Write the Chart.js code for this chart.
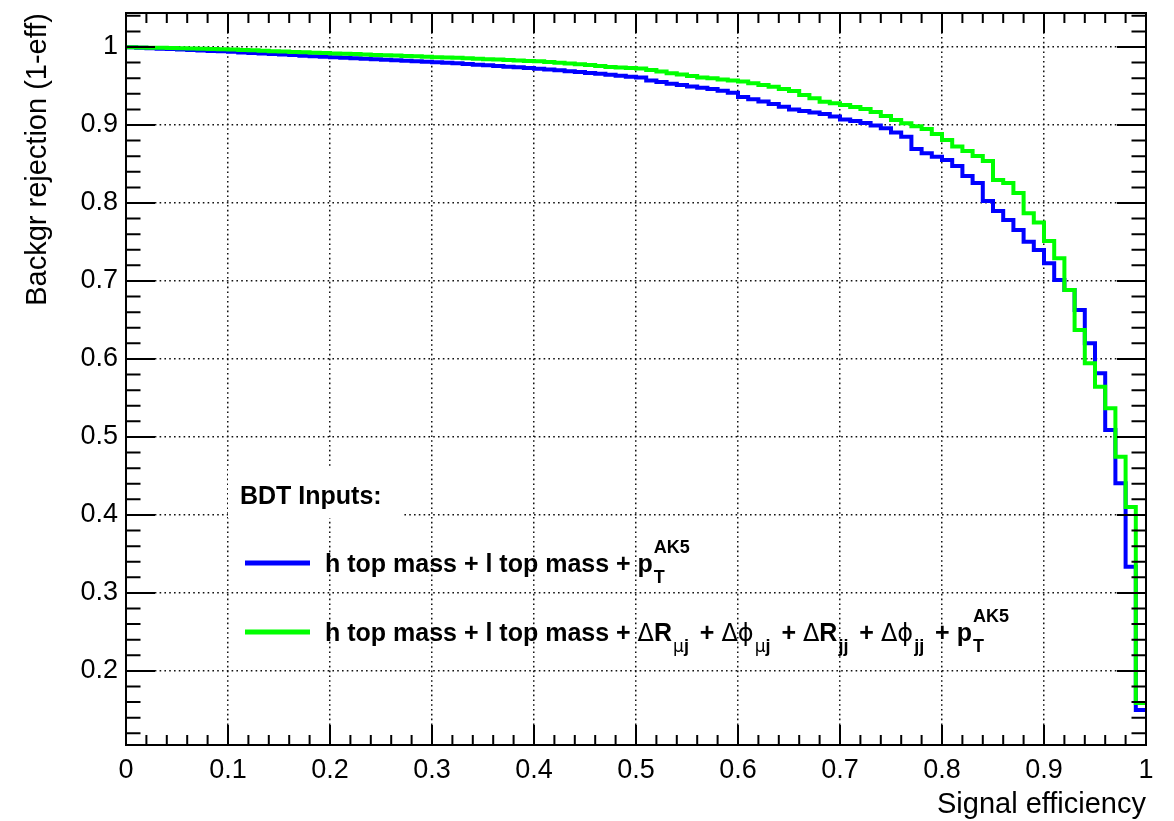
<!DOCTYPE html>
<html>
<head>
<meta charset="utf-8">
<script src="https://cdn.jsdelivr.net/npm/chart.js@4.4.1/dist/chart.umd.min.js"></script>
<style>
  html, body { margin: 0; padding: 0; background: #fff; }
</style>
</head>
<body>
<canvas id="chart" width="1174" height="821"></canvas>
<script>
// ROC curves: background rejection vs signal efficiency, 100 bins on [0, 1]
const binWidth = 0.01;

// h top mass + l top mass + pT
const rejBasic = [
  0.9997, 0.9991, 0.9985, 0.9979, 0.9973, 0.9967, 0.9962, 0.9956, 0.9950, 0.9944,
  0.9938, 0.9931, 0.9924, 0.9917, 0.9910, 0.9903, 0.9896, 0.9889, 0.9882, 0.9875,
  0.9868, 0.9862, 0.9856, 0.9850, 0.9844, 0.9837, 0.9831, 0.9825, 0.9818, 0.9812,
  0.9805, 0.9799, 0.9791, 0.9782, 0.9774, 0.9765, 0.9757, 0.9748, 0.9740, 0.9731,
  0.9722, 0.9712, 0.9701, 0.9690, 0.9679, 0.9668, 0.9657, 0.9645, 0.9632, 0.9619,
  0.9608, 0.9572, 0.9552, 0.9530, 0.9512, 0.9495, 0.9478, 0.9460, 0.9440, 0.9415,
  0.9360, 0.9330, 0.9300, 0.9270, 0.9235, 0.9200, 0.9180, 0.9160, 0.9140, 0.9110,
  0.9071, 0.9051, 0.9026, 0.8994, 0.8958, 0.8904, 0.8850, 0.8692, 0.8637, 0.8594,
  0.8551, 0.8474, 0.8346, 0.8256, 0.8026, 0.7897, 0.7782, 0.7654, 0.7504, 0.7397,
  0.7227, 0.7013, 0.6885, 0.6628, 0.6201, 0.5817, 0.5090, 0.4406, 0.3337, 0.1500
];

// same plus the angular variables
const rejFull = [
  0.9998, 0.9995, 0.9992, 0.9989, 0.9986, 0.9983, 0.9980, 0.9977, 0.9974, 0.9971,
  0.9967, 0.9962, 0.9957, 0.9952, 0.9947, 0.9942, 0.9937, 0.9932, 0.9927, 0.9922,
  0.9918, 0.9913, 0.9909, 0.9904, 0.9899, 0.9894, 0.9890, 0.9885, 0.9880, 0.9875,
  0.9870, 0.9866, 0.9861, 0.9855, 0.9850, 0.9844, 0.9839, 0.9834, 0.9828, 0.9822,
  0.9816, 0.9808, 0.9799, 0.9789, 0.9779, 0.9768, 0.9756, 0.9745, 0.9738, 0.9731,
  0.9724, 0.9706, 0.9685, 0.9664, 0.9646, 0.9628, 0.9610, 0.9598, 0.9584, 0.9570,
  0.9557, 0.9536, 0.9512, 0.9490, 0.9462, 0.9436, 0.9385, 0.9342, 0.9299, 0.9278,
  0.9256, 0.9231, 0.9205, 0.9167, 0.9115, 0.9064, 0.9022, 0.8983, 0.8949, 0.8885,
  0.8808, 0.8724, 0.8667, 0.8603, 0.8538, 0.8295, 0.8256, 0.8128, 0.7868, 0.7750,
  0.7513, 0.7291, 0.6885, 0.6372, 0.5945, 0.5645, 0.5368, 0.4747, 0.4103, 0.1590
];

const xTicks = [0, 0.1, 0.2, 0.3, 0.4, 0.5, 0.6, 0.7, 0.8, 0.9, 1];
const xTickLabels = ["0", "0.1", "0.2", "0.3", "0.4", "0.5", "0.6", "0.7", "0.8", "0.9", "1"];
const yTicks = [0.2, 0.3, 0.4, 0.5, 0.6, 0.7, 0.8, 0.9, 1];
const yTickLabels = ["0.2", "0.3", "0.4", "0.5", "0.6", "0.7", "0.8", "0.9", "1"];

const legendHeader = "BDT Inputs:";
const legendEntries = [
  { color: "#0000ff", runs: [{ t: "h top mass + l top mass + p" }, { sub: "T", sup: "AK5" }] },
  { color: "#00ff00", runs: [
      { t: "h top mass + l top mass + ΔR" }, { sub: "μj" },
      { t: " + Δϕ" }, { sub: "μj" },
      { t: " + ΔR" }, { sub: "jj" },
      { t: " + Δϕ" }, { sub: "jj" },
      { t: " + p" }, { sub: "T", sup: "AK5" }
  ] }
];

const FAMILY = '"Liberation Sans", Arial, Helvetica, sans-serif';
const GREEK_FAMILY = '"DejaVu Sans", "Liberation Sans", sans-serif';

// histogram bins -> points for a stepped line (value held to the next edge)
function toSteps(values) {
  const pts = values.map((v, i) => ({ x: i * binWidth, y: v }));
  pts.push({ x: 1, y: values[values.length - 1] });
  return pts;
}

// draws text, greek letters in a light symbol face, the rest bold
function drawMixed(ctx, text, x, y, size) {
  let cx = x;
  const parts = text.split(/([Δϕμ])/).filter(s => s !== "");
  for (const p of parts) {
    const greek = /[Δϕμ]/.test(p);
    ctx.font = greek ? "normal " + Math.round(size * 0.96) + "px " + GREEK_FAMILY
                     : "bold " + size + "px " + FAMILY;
    ctx.fillText(p, cx, y);
    cx += ctx.measureText(p).width;
  }
  return cx - x;
}

function drawRuns(ctx, runs, x, y) {
  let cx = x;
  for (const r of runs) {
    if (r.t) {
      cx += drawMixed(ctx, r.t, cx, y, 25);
    } else {
      let w = 0;
      if (r.sub) w = Math.max(w, drawMixed(ctx, r.sub, cx + 1, y + 11, 18));
      if (r.sup) w = Math.max(w, drawMixed(ctx, r.sup, cx + 1, y - 19, 18));
      cx += w + 5;
    }
  }
}

const legendPlugin = {
  id: "rocLegend",
  afterDraw(chart) {
    const ctx = chart.ctx;
    ctx.save();
    // header sits on its own white box
    ctx.fillStyle = "#fff";
    ctx.fillRect(228, 467, 174, 51);
    ctx.fillStyle = "#000";
    ctx.textBaseline = "alphabetic";
    ctx.textAlign = "left";
    ctx.font = "bold 25px " + FAMILY;
    ctx.fillText(legendHeader, 240, 504);

    legendEntries.forEach((e, i) => {
      const cy = 563 + i * 69;
      ctx.strokeStyle = e.color;
      ctx.lineWidth = 5;
      ctx.beginPath();
      ctx.moveTo(245, cy);
      ctx.lineTo(310, cy);
      ctx.stroke();
      ctx.fillStyle = "#000";
      drawRuns(ctx, e.runs, 325, cy + 9);
    });
    ctx.restore();
  }
};

// ROOT style frame with ticks on all four sides pointing inwards
const framePlugin = {
  id: "rootFrame",
  afterDatasetsDraw(chart) {
    const { ctx, chartArea: a, scales: { x, y } } = chart;
    ctx.save();
    ctx.strokeStyle = "#000";
    ctx.lineWidth = 2;
    ctx.beginPath();
    for (let k = 0; k <= 50; k++) {
      const px = x.getPixelForValue(k / 50);
      const len = k % 5 === 0 ? 20 : 10;
      ctx.moveTo(px, a.bottom); ctx.lineTo(px, a.bottom - len);
      ctx.moveTo(px, a.top); ctx.lineTo(px, a.top + len);
    }
    for (let k = 6; k <= 52; k++) {
      const v = k / 50;
      if (v < y.min || v > y.max) continue;
      const py = y.getPixelForValue(v);
      const len = k % 5 === 0 ? 29 : 14.5;
      ctx.moveTo(a.left, py); ctx.lineTo(a.left + len, py);
      ctx.moveTo(a.right, py); ctx.lineTo(a.right - len, py);
    }
    ctx.stroke();
    ctx.strokeRect(a.left, a.top, a.right - a.left, a.bottom - a.top);
    ctx.restore();
  }
};

const tickFont = { family: FAMILY, size: 27 };
const titleFont = { family: FAMILY, size: 29, lineHeight: 1.1 };

new Chart(document.getElementById("chart"), {
  type: "line",
  data: {
    datasets: [
      {
        label: "h top mass + l top mass + pT",
        data: toSteps(rejBasic),
        borderColor: "#0000ff",
        borderWidth: 4,
        stepped: "before",
        pointRadius: 0,
        fill: false,
        order: 2
      },
      {
        label: "h top mass + l top mass + angular",
        data: toSteps(rejFull),
        borderColor: "#00ff00",
        borderWidth: 4,
        stepped: "before",
        pointRadius: 0,
        fill: false,
        order: 1
      }
    ]
  },
  options: {
    responsive: false,
    animation: false,
    events: [],
    layout: { padding: { top: 13, right: 28, left: 0, bottom: 0 } },
    plugins: { legend: { display: false }, tooltip: { enabled: false } },
    scales: {
      x: {
        type: "linear",
        min: 0,
        max: 1,
        afterBuildTicks: s => { s.ticks = xTicks.map(v => ({ value: v })); },
        afterFit: s => { s.height = 76; s.paddingLeft = 0; s.paddingRight = 0; },
        ticks: {
          callback: (v, i) => xTickLabels[i],
          font: tickFont,
          color: "#000",
          padding: 9,
          maxRotation: 0,
          autoSkip: false
        },
        grid: { color: "#111", lineWidth: 1.5, drawTicks: false },
        border: { display: false, dash: [1.6, 3.2] },
        title: {
          display: true,
          text: "Signal efficiency",
          align: "end",
          color: "#000",
          font: titleFont,
          padding: { top: 0, bottom: 0 }
        }
      },
      y: {
        type: "linear",
        min: 0.105,
        max: 1.0436,
        afterBuildTicks: s => { s.ticks = yTicks.map(v => ({ value: v })); },
        afterFit: s => { s.width = 126; s.paddingTop = 0; s.paddingBottom = 0; },
        ticks: {
          callback: (v, i) => yTickLabels[i],
          font: tickFont,
          color: "#000",
          padding: 8,
          autoSkip: false
        },
        grid: { color: "#111", lineWidth: 1.5, drawTicks: false },
        border: { display: false, dash: [1.6, 3.2] },
        title: {
          display: true,
          text: "Backgr rejection (1-eff)",
          align: "end",
          color: "#000",
          font: titleFont,
          padding: { top: 22, bottom: 0 }
        }
      }
    }
  },
  plugins: [legendPlugin, framePlugin]
});
</script>
</body>
</html>
